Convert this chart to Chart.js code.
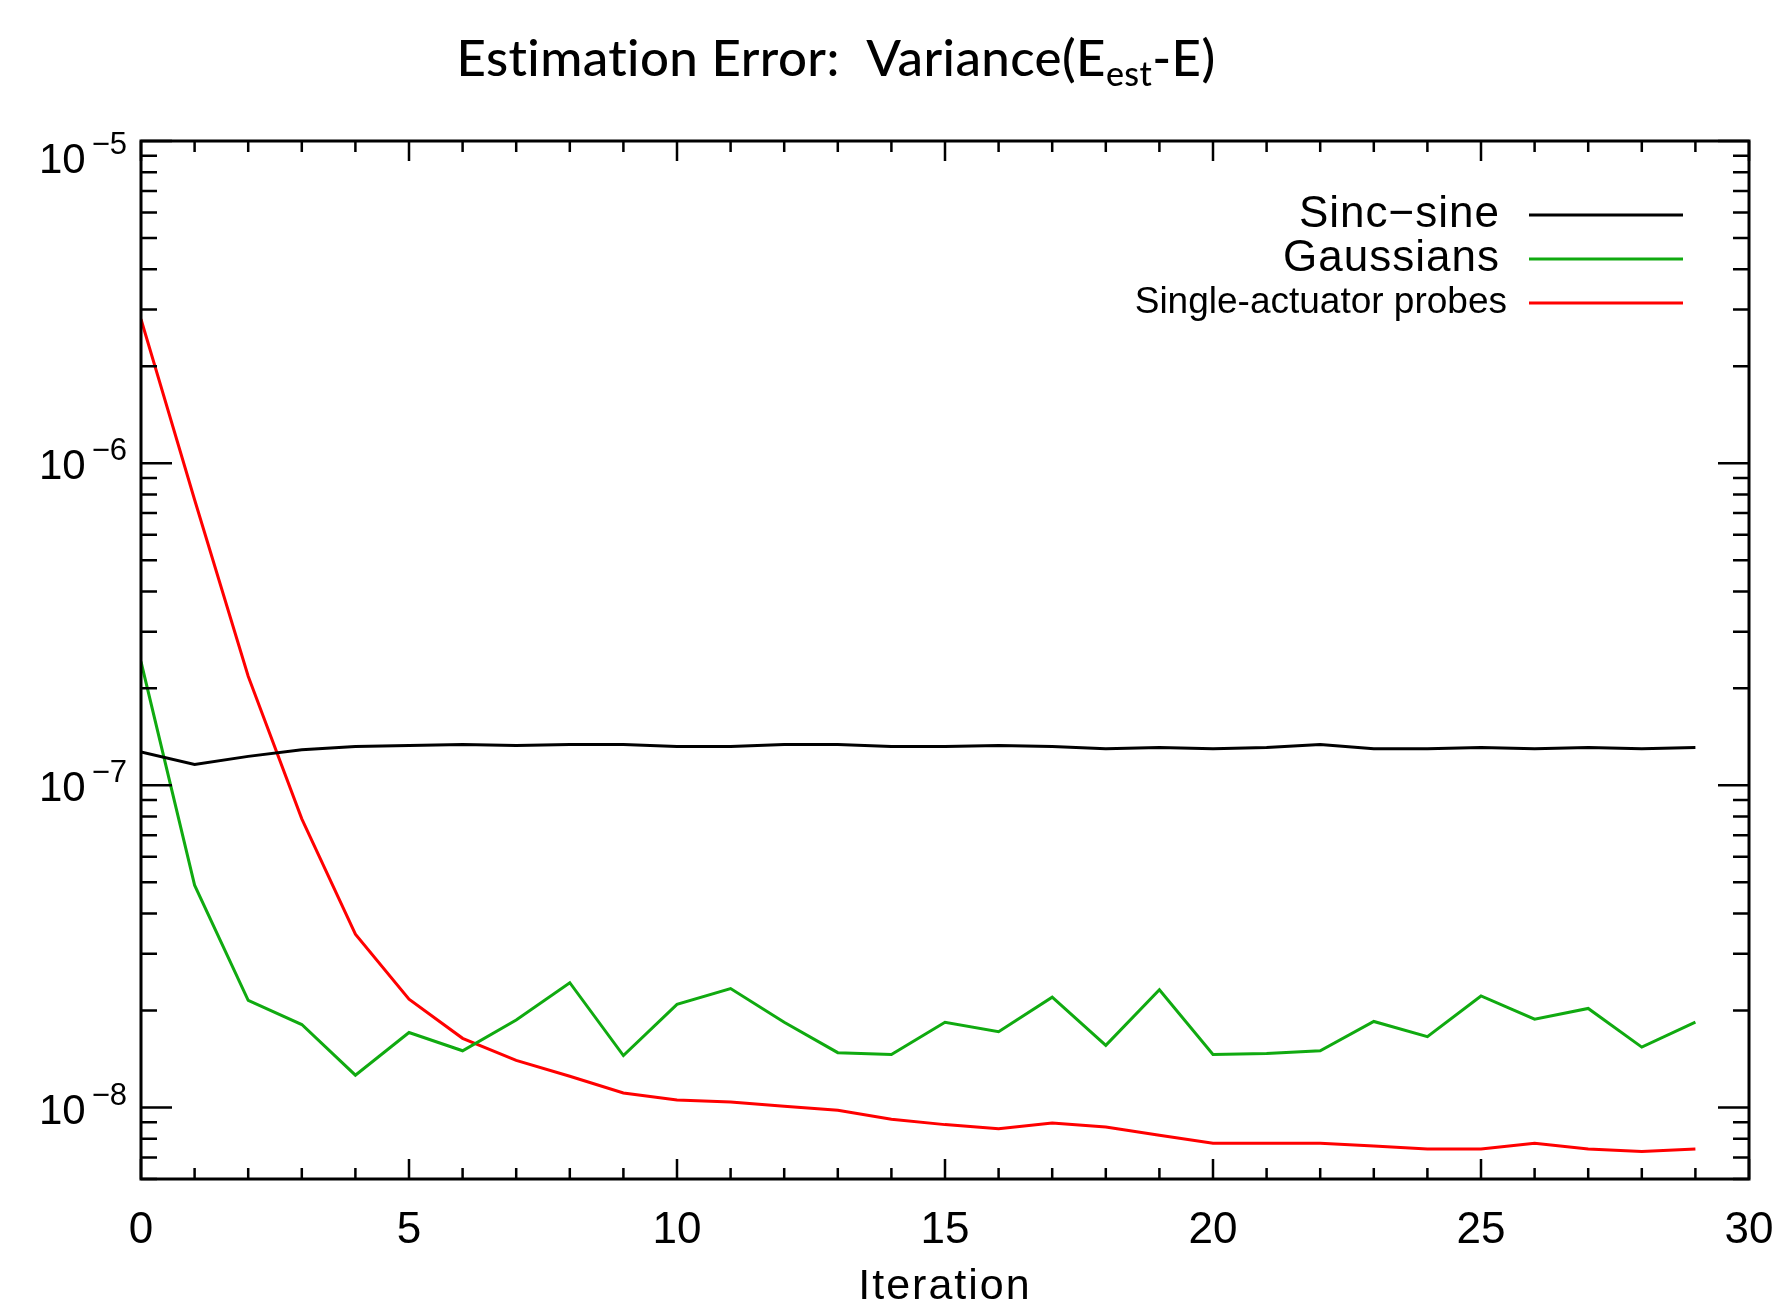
<!DOCTYPE html>
<html>
<head>
<meta charset="utf-8">
<script src="https://cdn.jsdelivr.net/npm/chart.js@4/dist/chart.umd.min.js"></script>
<style>
  html, body { margin: 0; padding: 0; background: #fff; }
  canvas { display: block; }
</style>
</head>
<body>
<canvas id="chartVar" width="1773" height="1309"></canvas>
<script>
// values
const iterations = [0, 1, 2, 3, 4, 5, 6, 7, 8, 9, 10, 11, 12, 13, 14, 15, 16, 17, 18, 19, 20, 21, 22, 23, 24, 25, 26, 27, 28, 29];
const sincSine = [1.27e-7, 1.16e-7, 1.23e-7, 1.29e-7, 1.32e-7, 1.33e-7, 1.34e-7, 1.33e-7, 1.34e-7, 1.34e-7,
  1.32e-7, 1.32e-7, 1.34e-7, 1.34e-7, 1.32e-7, 1.32e-7, 1.33e-7, 1.32e-7, 1.30e-7, 1.31e-7,
  1.30e-7, 1.31e-7, 1.34e-7, 1.30e-7, 1.30e-7, 1.31e-7, 1.30e-7, 1.31e-7, 1.30e-7, 1.31e-7];
const gaussians = [2.42e-7, 4.9e-8, 2.15e-8, 1.81e-8, 1.26e-8, 1.71e-8, 1.50e-8, 1.87e-8, 2.44e-8, 1.45e-8,
  2.09e-8, 2.34e-8, 1.84e-8, 1.48e-8, 1.46e-8, 1.84e-8, 1.72e-8, 2.20e-8, 1.56e-8, 2.32e-8,
  1.46e-8, 1.47e-8, 1.50e-8, 1.85e-8, 1.66e-8, 2.22e-8, 1.88e-8, 2.03e-8, 1.54e-8, 1.84e-8];
const singleActuator = [2.8e-6, 7.7e-7, 2.18e-7, 7.87e-8, 3.45e-8, 2.17e-8, 1.64e-8, 1.40e-8, 1.25e-8, 1.11e-8,
  1.055e-8, 1.04e-8, 1.01e-8, 9.8e-9, 9.2e-9, 8.85e-9, 8.6e-9, 8.95e-9, 8.7e-9, 8.2e-9,
  7.75e-9, 7.75e-9, 7.75e-9, 7.6e-9, 7.43e-9, 7.43e-9, 7.75e-9, 7.43e-9, 7.3e-9, 7.43e-9];

// axis ticks
const xTickLabels = ['0', '5', '10', '15', '20', '25', '30'];
const xMajorTicks = [0, 5, 10, 15, 20, 25, 30];
const yMajorTicks = [1e-8, 1e-7, 1e-6, 1e-5];
const yExponents = ['\u22128', '\u22127', '\u22126', '\u22125'];
const yMantissas = [2, 3, 4, 5, 6, 7, 8, 9];

const hershey = '"Liberation Sans", "DejaVu Sans", sans-serif';

const toPoints = (vals) => vals.map((v, i) => ({ x: iterations[i], y: v }));

// IDL style box: inward ticks on all sides, labels, legend and title
const idlBox = {
  id: 'idlBox',
  afterDraw: (chart) => {
    const ctx = chart.ctx;
    const a = chart.chartArea;
    const xs = chart.scales.x;
    const ys = chart.scales.y;
    ctx.save();
    ctx.strokeStyle = '#000';
    ctx.fillStyle = '#000';

    ctx.lineWidth = 2.5;
    ctx.beginPath();
    for (let v = xs.min; v <= xs.max; v++) {
      const px = xs.getPixelForValue(v);
      const len = xMajorTicks.includes(v) ? 20 : 11;
      ctx.moveTo(px, a.bottom); ctx.lineTo(px, a.bottom - len);
      ctx.moveTo(px, a.top); ctx.lineTo(px, a.top + len);
    }
    const yMinor = [];
    [1e-9, 1e-8, 1e-7, 1e-6].forEach((d) => {
      yMantissas.forEach((m) => {
        const v = m * d;
        if (v >= ys.min && v <= ys.max) yMinor.push(v);
      });
    });
    yMinor.forEach((v) => {
      const py = ys.getPixelForValue(v);
      ctx.moveTo(a.left, py); ctx.lineTo(a.left + 16, py);
      ctx.moveTo(a.right, py); ctx.lineTo(a.right - 16, py);
    });
    yMajorTicks.forEach((v) => {
      const py = ys.getPixelForValue(v);
      ctx.moveTo(a.left, py); ctx.lineTo(a.left + 31, py);
      ctx.moveTo(a.right, py); ctx.lineTo(a.right - 31, py);
    });
    ctx.stroke();

    ctx.lineWidth = 3;
    ctx.strokeRect(a.left, a.top, a.right - a.left, a.bottom - a.top);

    // x tick labels
    ctx.font = '44px ' + hershey;
    ctx.textAlign = 'center';
    ctx.textBaseline = 'middle';
    xMajorTicks.forEach((v, i) => {
      ctx.fillText(xTickLabels[i], xs.getPixelForValue(v), a.bottom + 52);
    });
    ctx.font = '43px ' + hershey;
    ctx.letterSpacing = '2px';
    ctx.fillText('Iteration', xs.getPixelForValue(15), a.bottom + 108);
    ctx.letterSpacing = '0px';

    // y tick labels 10^n
    ctx.textAlign = 'left';
    ctx.textBaseline = 'alphabetic';
    yMajorTicks.forEach((v, i) => {
      const cy = Math.max(ys.getPixelForValue(v), a.top + 16);
      ctx.font = '31px ' + hershey;
      const expW = ctx.measureText(yExponents[i]).width;
      ctx.font = '42px ' + hershey;
      const baseW = ctx.measureText('10').width;
      const right = a.left - 14;
      ctx.fillText('10', right - expW - 6 - baseW, cy + 16);
      ctx.font = '31px ' + hershey;
      ctx.fillText(yExponents[i], right - expW, cy - 3);
    });

    // legend
    ctx.textAlign = 'right';
    ctx.textBaseline = 'middle';
    chart.data.datasets.forEach((ds, i) => {
      const ly = a.top + 74 + i * 44;
      if (i < 2) {
        ctx.font = '44px ' + hershey;
        ctx.letterSpacing = '1px';
        ctx.fillText(ds.label, a.right - 249, ly);
        ctx.letterSpacing = '0px';
      } else {
        ctx.font = '37px "Liberation Sans", Arial, sans-serif';
        ctx.fillText(ds.label, a.right - 242, ly);
      }
      ctx.strokeStyle = ds.borderColor;
      ctx.lineWidth = 3;
      ctx.beginPath();
      ctx.moveTo(a.right - 220, ly);
      ctx.lineTo(a.right - 66, ly);
      ctx.stroke();
    });

    // title with subscript
    const fs = 51;
    const parts = [
      { t: 'Estimation Error:  Variance(E', f: '500 ' + fs + 'px Lato, "Open Sans", sans-serif', dy: 0 },
      { t: 'est', f: '500 ' + Math.round(fs * 0.66) + 'px Lato, "Open Sans", sans-serif', dy: 10 },
      { t: '-E)', f: '500 ' + fs + 'px Lato, "Open Sans", sans-serif', dy: 0 }
    ];
    ctx.letterSpacing = '0.4px';
    let total = 0;
    parts.forEach((p) => { ctx.font = p.f; p.w = ctx.measureText(p.t).width; total += p.w; });
    let tx = 836 - total / 2;
    ctx.fillStyle = '#000';
    ctx.textAlign = 'left';
    ctx.textBaseline = 'alphabetic';
    parts.forEach((p) => {
      ctx.font = p.f;
      ctx.fillText(p.t, tx, 76 + p.dy);
      tx += p.w;
    });
    ctx.restore();
  }
};

const ctx = document.getElementById('chartVar').getContext('2d');
const varChart = new Chart(ctx, {
  type: 'line',
  data: {
    datasets: [{
      label: 'Sinc\u2212sine',
      data: toPoints(sincSine),
      borderColor: '#000000',
      borderWidth: 3,
      pointRadius: 0,
      fill: false
    },
    {
      label: 'Gaussians',
      data: toPoints(gaussians),
      borderColor: '#10aa10',
      borderWidth: 3,
      pointRadius: 0,
      fill: false
    },
    {
      label: 'Single-actuator probes',
      data: toPoints(singleActuator),
      borderColor: '#ff0000',
      borderWidth: 3,
      pointRadius: 0,
      fill: false
    }]
  },
  options: {
    responsive: false,
    animation: false,
    layout: { padding: { left: 141, right: 24, top: 141, bottom: 130 } },
    scales: {
      x: { type: 'linear', min: 0, max: 30, display: false },
      y: { type: 'logarithmic', min: 6e-9, max: 1e-5, display: false }
    },
    plugins: {
      legend: { display: false },
      tooltip: { enabled: false },
      title: { display: false }
    }
  },
  plugins: [idlBox]
});
</script>
</body>
</html>
